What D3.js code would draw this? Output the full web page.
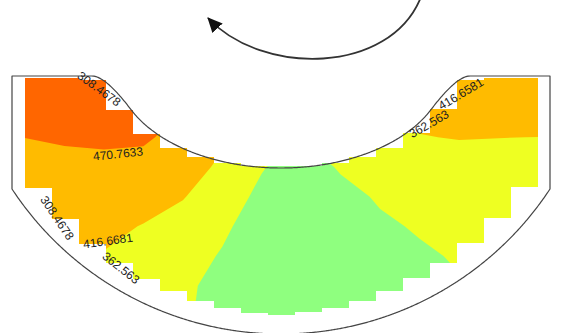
<!DOCTYPE html>
<html><head><meta charset="utf-8">
<script src="https://cdn.jsdelivr.net/npm/d3@7"></script>
<style>html,body{margin:0;padding:0;background:#fff;} svg{display:block;}</style>
</head><body>
<svg id="chart" width="564" height="333"></svg>
<script>
// ---------------- data ----------------
// contour levels (band lower bounds)
const levels = [308.4678, 362.563, 416.6581, 470.7633];
// estimated field values on a 14 x 9 node grid (rows top -> bottom)
const fieldRow0 = [507, 511, 510, 500, 480, 450, 405, 400, 400, 405, 425, 445, 447, 447];
const fieldRow1 = [489, 494, 496, 490, 471, 437, 397, 385, 390, 400, 425, 432, 432, 432];
const fieldRow2 = [471, 475, 478, 477, 456, 424, 383, 365, 376.6, 393.4, 415.5, 418, 417, 416.5];
const fieldRow3 = [459.7, 460.4, 460.2, 456.2, 437.7, 408.2, 365.9, 338, 367.5, 381, 396.8, 402.7, 404.9, 406.4];
const fieldRow4 = [449, 447.2, 443, 434.7, 419.2, 388.4, 350.5, 332, 347.8, 367.9, 381.1, 389.4, 393.9, 397.1];
const fieldRow5 = [439.2, 435, 427.9, 414.7, 398.6, 371, 339.3, 322, 333, 355, 367.2, 377.4, 384, 388.5];
const fieldRow6 = [429.8, 423.7, 414.1, 400.7, 381.7, 358.8, 345, 330, 325, 337, 356.1, 366.8, 374.9, 380.5];
const fieldRow7 = [421, 413.1, 402.2, 388.8, 370.2, 350.1, 338, 325, 318, 325, 342, 359.1, 366.5, 373.3];
const fieldRow8 = [411, 404.4, 394.5, 381.9, 367.3, 350.3, 338, 324, 316, 320, 332, 347, 360.5, 366.2];
const fieldRows = [fieldRow0, fieldRow1, fieldRow2, fieldRow3, fieldRow4, fieldRow5, fieldRow6, fieldRow7, fieldRow8];
// contour label texts
const labelTexts = ["308.4678", "470.7633", "308.4678", "416.6681", "362.563", "362.563", "416.6581"];

// ---------------- styles / layout ----------------
const bandColors = ["#8fff7f", "#eeff22", "#ffbb00", "#ff6600"];
const W = 564, H = 333;
const grid = {x0: 25, x1: 538, y0: 78, y1: 315.3};
const cx = 281;
const inner = {cy: 68, rx: 165, ry: 100, filletStart: 150, filletEnd: 189, topY: 76};
const outer = {cy: 12, r: 322, halfWidth: 269};
const maskCol = {x0: 25, w: 27, n: 19, topPad: 2, bottomPad: 19};
const labelLayout = [
  {x: 99, y: 89, a: 36},
  {x: 118, y: 154, a: -6},
  {x: 57, y: 218, a: 56},
  {x: 108, y: 241, a: -8},
  {x: 121, y: 268, a: 38},
  {x: 429, y: 124, a: -30},
  {x: 461, y: 94, a: -31}
];

const svg = d3.select("#chart");
svg.append("rect").attr("width", W).attr("height", H).attr("fill", "#fff");

// ---------- geometry helpers ----------
function filletPoint(t) {
  const p0 = [inner.filletStart, inner.cy + inner.ry * Math.sqrt(1 - Math.pow(inner.filletStart / inner.rx, 2))];
  const slope = inner.ry * (inner.filletStart / (inner.rx * inner.rx)) / Math.sqrt(1 - Math.pow(inner.filletStart / inner.rx, 2));
  const p1 = [inner.filletStart + (p0[1] - inner.topY) / slope, inner.topY];
  const p2 = [inner.filletEnd, inner.topY];
  const u = 1 - t;
  return [u*u*p0[0] + 2*u*t*p1[0] + t*t*p2[0], u*u*p0[1] + 2*u*t*p1[1] + t*t*p2[1]];
}
function innerY(x) {
  const dx = Math.abs(x - cx);
  if (dx <= inner.filletStart) return inner.cy + inner.ry * Math.sqrt(1 - Math.pow(dx / inner.rx, 2));
  if (dx >= inner.filletEnd) return inner.topY;
  let lo = 0, hi = 1;
  for (let i = 0; i < 40; i++) { const m = (lo + hi) / 2; if (filletPoint(m)[0] < dx) lo = m; else hi = m; }
  return filletPoint((lo + hi) / 2)[1];
}
function outerY(x) {
  const dx = x - cx;
  return outer.cy + Math.sqrt(outer.r * outer.r - dx * dx);
}

// ---------- mask (grid cells inside the part) ----------
const cols = d3.range(maskCol.n).map(k => {
  const xa = maskCol.x0 + k * maskCol.w, xb = xa + maskCol.w;
  const xs = d3.range(xa, xb + 0.01, 0.5);
  const top = Math.max(grid.y0, d3.max(xs, innerY) - maskCol.topPad);
  const bottom = d3.min(xs, outerY) - maskCol.bottomPad;
  return {x: xa, top: Math.round(top), bottom: Math.round(bottom)};
});
const defs = svg.append("defs");
defs.append("clipPath").attr("id", "partMask")
  .selectAll("rect").data(cols).join("rect")
  .attr("x", d => d.x).attr("y", d => d.top)
  .attr("width", maskCol.w).attr("height", d => d.bottom - d.top);

// ---------- filled contours ----------
const nx = fieldRows[0].length, ny = fieldRows.length;
const values = fieldRows.flat();
const sxScale = d3.scaleLinear().domain([0.5, nx - 0.5]).range([grid.x0, grid.x1]);
const syScale = d3.scaleLinear().domain([0.5, ny - 0.5]).range([grid.y0, grid.y1]);
const proj = d3.geoTransform({point: function(x, y) { this.stream.point(sxScale(x), syScale(y)); }});
const geo = d3.geoPath(proj);
const bands = d3.contours().size([nx, ny]).thresholds(levels)(values);
const colorScale = d3.scaleOrdinal().domain(levels).range(bandColors);

svg.append("g").attr("clip-path", "url(#partMask)")
  .selectAll("path").data(bands).join("path")
  .attr("d", geo)
  .attr("fill", d => colorScale(d.value))
  .attr("stroke", "none");

// ---------- outline of the part ----------
const outlinePts = [];
outlinePts.push([cx - outer.halfWidth, inner.topY]);
d3.range(cx - inner.filletEnd, cx + inner.filletEnd + 0.01, 1).forEach(x => outlinePts.push([x, innerY(x)]));
outlinePts.push([cx + outer.halfWidth, inner.topY]);
d3.range(cx + outer.halfWidth, cx - outer.halfWidth - 0.01, -1).forEach(x => outlinePts.push([x, outerY(x)]));
svg.append("path")
  .attr("d", d3.line()(outlinePts) + "Z")
  .attr("fill", "none").attr("stroke", "#444").attr("stroke-width", 1.2)
  .attr("stroke-linejoin", "round");

// ---------- contour labels ----------
svg.append("g").selectAll("text").data(labelTexts).join("text")
  .attr("transform", (d, i) => `translate(${labelLayout[i].x},${labelLayout[i].y}) rotate(${labelLayout[i].a})`)
  .attr("text-anchor", "middle").attr("dominant-baseline", "central")
  .attr("font-family", "Liberation Sans, Arial, sans-serif").attr("font-size", 12)
  .attr("fill", "#222").text(d => d);

// ---------- rotation arrow ----------
defs.append("marker").attr("id", "arrowHead")
  .attr("markerUnits", "userSpaceOnUse").attr("viewBox", "0 0 15 15")
  .attr("markerWidth", 15).attr("markerHeight", 15)
  .attr("refX", 14).attr("refY", 7.5).attr("orient", "auto")
  .append("path").attr("d", "M0,0.5 L15,7.5 L0,14.5 Z").attr("fill", "#111");
const arrow = d3.path();
arrow.moveTo(421, -3);
arrow.bezierCurveTo(390, 75, 262, 76, 208, 18);
svg.append("path").attr("d", arrow.toString())
  .attr("fill", "none").attr("stroke", "#333").attr("stroke-width", 1.8)
  .attr("marker-end", "url(#arrowHead)");
</script>
</body></html>
